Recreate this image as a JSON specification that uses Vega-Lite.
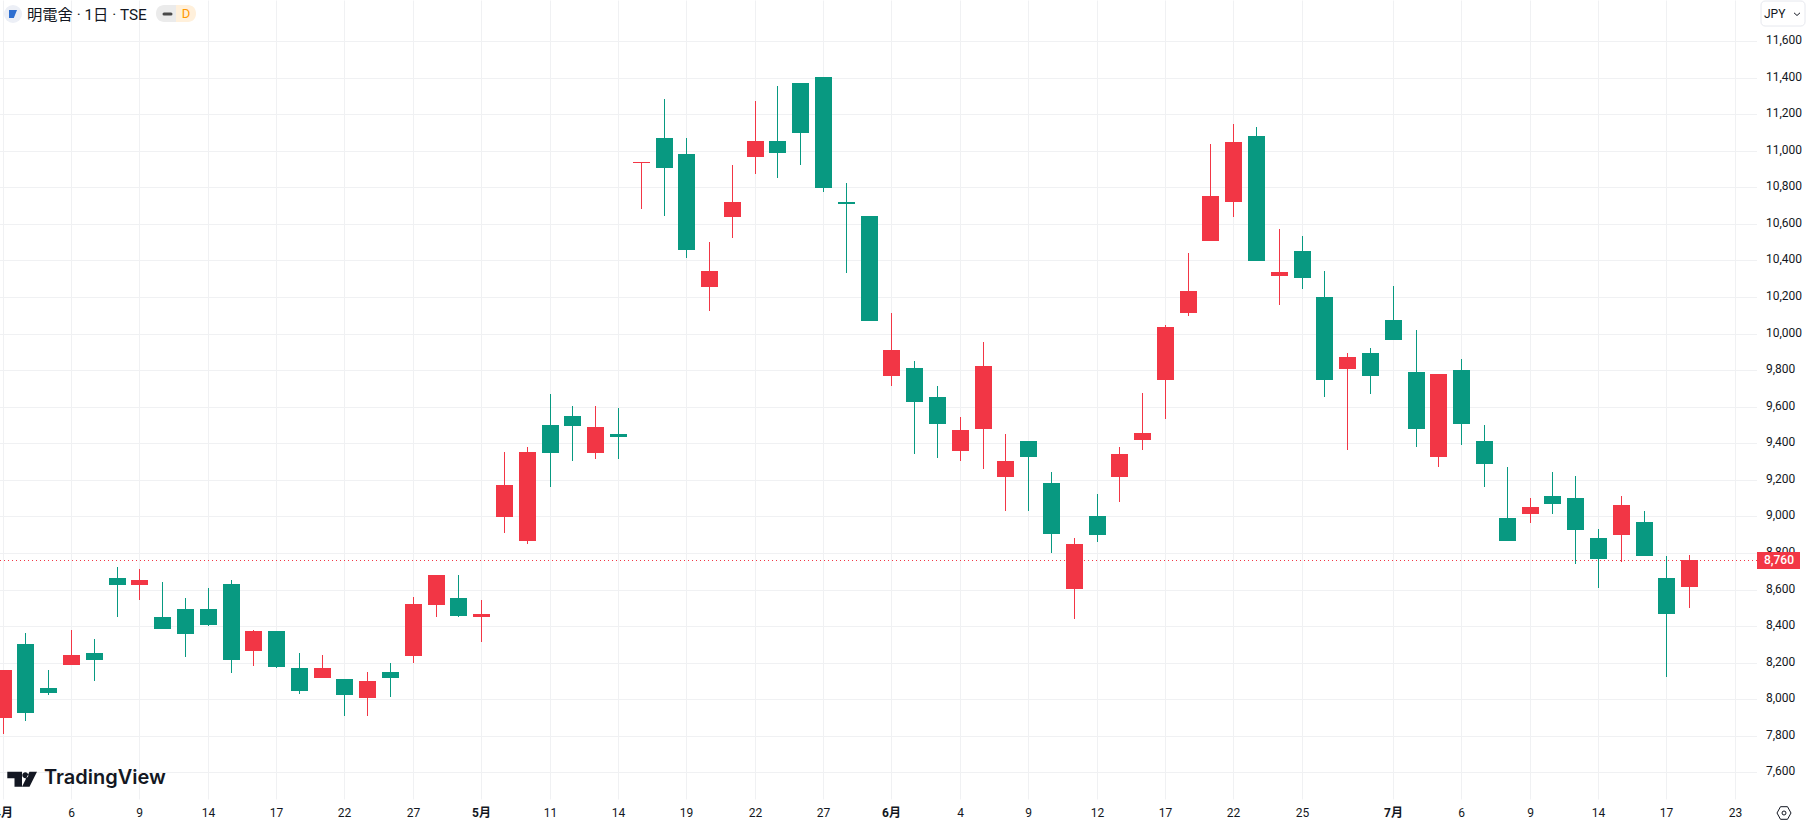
{
  "$schema": "https://vega.github.io/schema/vega-lite/v6.json",
  "width": 1757,
  "height": 799,
  "autosize": {"type": "none"},
  "padding": {"left": 0, "top": 0, "right": 50, "bottom": 28},
  "background": "#ffffff",
  "config": {"view": {"stroke": null}, "font": "Roboto, 'Noto Sans CJK JP', sans-serif"},
  "datasets": {
    "levels": [
      {"price":7600},{"price":7800},{"price":8000},{"price":8200},{"price":8400},{"price":8600},{"price":8800},
      {"price":9000},{"price":9200},{"price":9400},{"price":9600},{"price":9800},{"price":10000},{"price":10200},
      {"price":10400},{"price":10600},{"price":10800},{"price":11000},{"price":11200},{"price":11400},{"price":11600}
    ],
    "candles": [
      {"date":"04-01","bar":0,"open":7900,"high":8160,"low":7810,"close":8160},
      {"date":"04-02","bar":1,"open":8305,"high":8365,"low":7880,"close":7925},
      {"date":"04-03","bar":2,"open":8060,"high":8160,"low":8025,"close":8035},
      {"date":"04-06","bar":3,"open":8190,"high":8380,"low":8190,"close":8245},
      {"date":"04-07","bar":4,"open":8255,"high":8330,"low":8100,"close":8215},
      {"date":"04-08","bar":5,"open":8665,"high":8725,"low":8450,"close":8625},
      {"date":"04-09","bar":6,"open":8625,"high":8715,"low":8545,"close":8655},
      {"date":"04-10","bar":7,"open":8450,"high":8640,"low":8385,"close":8385},
      {"date":"04-13","bar":8,"open":8495,"high":8555,"low":8230,"close":8355},
      {"date":"04-14","bar":9,"open":8495,"high":8610,"low":8400,"close":8405},
      {"date":"04-15","bar":10,"open":8630,"high":8655,"low":8145,"close":8215},
      {"date":"04-16","bar":11,"open":8265,"high":8380,"low":8180,"close":8375},
      {"date":"04-17","bar":12,"open":8375,"high":8375,"low":8170,"close":8175},
      {"date":"04-20","bar":13,"open":8170,"high":8255,"low":8030,"close":8045},
      {"date":"04-21","bar":14,"open":8115,"high":8245,"low":8115,"close":8170},
      {"date":"04-22","bar":15,"open":8110,"high":8110,"low":7910,"close":8025},
      {"date":"04-23","bar":16,"open":8005,"high":8150,"low":7910,"close":8100},
      {"date":"04-24","bar":17,"open":8150,"high":8200,"low":8015,"close":8115},
      {"date":"04-27","bar":18,"open":8235,"high":8560,"low":8200,"close":8520},
      {"date":"04-28","bar":19,"open":8515,"high":8680,"low":8450,"close":8680},
      {"date":"04-30","bar":20,"open":8555,"high":8680,"low":8450,"close":8455},
      {"date":"05-01","bar":21,"open":8450,"high":8545,"low":8315,"close":8465},
      {"date":"05-07","bar":22,"open":8995,"high":9355,"low":8910,"close":9170},
      {"date":"05-08","bar":23,"open":8865,"high":9380,"low":8850,"close":9355},
      {"date":"05-11","bar":24,"open":9500,"high":9670,"low":9160,"close":9345},
      {"date":"05-12","bar":25,"open":9550,"high":9605,"low":9305,"close":9495},
      {"date":"05-13","bar":26,"open":9345,"high":9605,"low":9315,"close":9490},
      {"date":"05-14","bar":27,"open":9450,"high":9595,"low":9315,"close":9435},
      {"date":"05-15","bar":28,"open":10935,"high":10940,"low":10680,"close":10940},
      {"date":"05-18","bar":29,"open":11070,"high":11285,"low":10645,"close":10905},
      {"date":"05-19","bar":30,"open":10980,"high":11070,"low":10415,"close":10455},
      {"date":"05-20","bar":31,"open":10255,"high":10500,"low":10125,"close":10340},
      {"date":"05-21","bar":32,"open":10640,"high":10920,"low":10525,"close":10720},
      {"date":"05-22","bar":33,"open":10965,"high":11270,"low":10875,"close":11055},
      {"date":"05-25","bar":34,"open":11055,"high":11355,"low":10850,"close":10990},
      {"date":"05-26","bar":35,"open":11370,"high":11370,"low":10920,"close":11095},
      {"date":"05-27","bar":36,"open":11405,"high":11405,"low":10775,"close":10795},
      {"date":"05-28","bar":37,"open":10720,"high":10825,"low":10330,"close":10710},
      {"date":"05-29","bar":38,"open":10645,"high":10645,"low":10070,"close":10070},
      {"date":"06-01","bar":39,"open":9770,"high":10110,"low":9715,"close":9910},
      {"date":"06-02","bar":40,"open":9810,"high":9850,"low":9340,"close":9625},
      {"date":"06-03","bar":41,"open":9655,"high":9715,"low":9320,"close":9505},
      {"date":"06-04","bar":42,"open":9360,"high":9545,"low":9305,"close":9475},
      {"date":"06-05","bar":43,"open":9480,"high":9955,"low":9260,"close":9825},
      {"date":"06-08","bar":44,"open":9215,"high":9450,"low":9030,"close":9305},
      {"date":"06-09","bar":45,"open":9415,"high":9415,"low":9030,"close":9325},
      {"date":"06-10","bar":46,"open":9185,"high":9245,"low":8800,"close":8905},
      {"date":"06-11","bar":47,"open":8605,"high":8880,"low":8440,"close":8850},
      {"date":"06-12","bar":48,"open":9005,"high":9125,"low":8860,"close":8900},
      {"date":"06-15","bar":49,"open":9215,"high":9380,"low":9080,"close":9340},
      {"date":"06-16","bar":50,"open":9420,"high":9675,"low":9365,"close":9455},
      {"date":"06-17","bar":51,"open":9745,"high":10045,"low":9535,"close":10035},
      {"date":"06-18","bar":52,"open":10115,"high":10440,"low":10095,"close":10235},
      {"date":"06-19","bar":53,"open":10505,"high":11035,"low":10505,"close":10750},
      {"date":"06-22","bar":54,"open":10720,"high":11145,"low":10640,"close":11045},
      {"date":"06-23","bar":55,"open":11080,"high":11130,"low":10395,"close":10395},
      {"date":"06-24","bar":56,"open":10315,"high":10570,"low":10155,"close":10335},
      {"date":"06-25","bar":57,"open":10450,"high":10535,"low":10245,"close":10305},
      {"date":"06-26","bar":58,"open":10200,"high":10340,"low":9655,"close":9745},
      {"date":"06-29","bar":59,"open":9805,"high":9895,"low":9365,"close":9870},
      {"date":"06-30","bar":60,"open":9895,"high":9920,"low":9670,"close":9770},
      {"date":"07-01","bar":61,"open":10075,"high":10260,"low":9965,"close":9965},
      {"date":"07-02","bar":62,"open":9790,"high":10020,"low":9380,"close":9480},
      {"date":"07-03","bar":63,"open":9325,"high":9780,"low":9270,"close":9780},
      {"date":"07-06","bar":64,"open":9800,"high":9860,"low":9390,"close":9505},
      {"date":"07-07","bar":65,"open":9415,"high":9500,"low":9160,"close":9285},
      {"date":"07-08","bar":66,"open":8990,"high":9270,"low":8865,"close":8865},
      {"date":"07-09","bar":67,"open":9015,"high":9100,"low":8965,"close":9050},
      {"date":"07-10","bar":68,"open":9110,"high":9245,"low":9015,"close":9070},
      {"date":"07-13","bar":69,"open":9100,"high":9220,"low":8740,"close":8925},
      {"date":"07-14","bar":70,"open":8880,"high":8930,"low":8610,"close":8765},
      {"date":"07-15","bar":71,"open":8900,"high":9110,"low":8750,"close":9065},
      {"date":"07-16","bar":72,"open":8970,"high":9030,"low":8785,"close":8785},
      {"date":"07-17","bar":73,"open":8665,"high":8785,"low":8120,"close":8465},
      {"date":"07-21","bar":74,"open":8615,"high":8790,"low":8500,"close":8760}
    ]
  },
  "data": {"name": "candles"},
  "layer": [
    {
      "data": {"name": "levels"},
      "mark": {"type": "rule", "color": "#f0f1f3", "strokeWidth": 1, "yOffset": 0.5},
      "encoding": {"y": {"field": "price", "type": "quantitative", "axis": null}}
    },
    {
      "data": {"name": "levels"},
      "mark": {"type": "text", "color": "#131722", "fontSize": 12, "align": "left", "baseline": "middle", "dy": -1.5},
      "encoding": {
        "x": {"datum": 77.39},
        "y": {"field": "price", "type": "quantitative", "axis": null},
        "text": {"field": "price", "type": "quantitative", "format": ","}
      }
    },
    {
      "mark": {"type": "rule", "strokeWidth": 1, "xOffset": 0.5},
      "encoding": {
        "x": {
          "field": "bar",
          "type": "quantitative",
          "title": null,
          "scale": {"domain": [-0.1141, 76.98], "nice": false, "zero": false, "padding": 0, "round": true},
          "axis": {
            "values": [0,3,6,9,12,15,18,21,24,27,30,33,36,39,42,45,48,51,54,57,61,64,67,70,73,76],
            "labelExpr": "{'0':'4月','3':'6','6':'9','9':'14','12':'17','15':'22','18':'27','21':'5月','24':'11','27':'14','30':'19','33':'22','36':'27','39':'6月','42':'4','45':'9','48':'12','51':'17','54':'22','57':'25','61':'7月','64':'6','67':'9','70':'14','73':'17','76':'23'}[datum.value]",
            "labelFontWeight": {"condition": {"test": "datum.value==0||datum.value==21||datum.value==39||datum.value==61", "value": "bold"}, "value": "normal"},
            "grid": true,
            "gridColor": "#f0f1f3",
            "domain": false,
            "ticks": false,
            "labelPadding": 8,
            "labelFontSize": 12,
            "labelColor": "#131722",
            "labelBound": false,
            "labelFlush": false,
            "labelOverlap": false
          }
        },
        "y": {
          "field": "high",
          "type": "quantitative",
          "title": null,
          "scale": {"domain": [7455, 11824], "nice": false, "zero": false, "padding": 0, "round": true},
          "axis": null
        },
        "y2": {"field": "low"},
        "color": {"condition": {"test": "datum.close>=datum.open", "value": "#f23645"}, "value": "#089981"}
      }
    },
    {
      "mark": {"type": "bar", "size": 17, "xOffset": 0.5},
      "encoding": {
        "x": {"field": "bar", "type": "quantitative"},
        "y": {"field": "open", "type": "quantitative", "axis": null},
        "y2": {"field": "close"},
        "color": {"condition": {"test": "datum.close>=datum.open", "value": "#f23645"}, "value": "#089981"}
      }
    },
    {
      "transform": [{"filter": "datum.bar==74"}],
      "mark": {"type": "rule", "color": "#f23645", "strokeWidth": 1, "strokeDash": [1, 3], "yOffset": 0.5},
      "encoding": {"y": {"field": "close", "type": "quantitative", "axis": null}}
    },
    {
      "transform": [{"filter": "datum.bar==74"}],
      "mark": {"type": "bar", "color": "#f23645"},
      "encoding": {
        "x": {"datum": 77.0},
        "x2": {"datum": 78.87},
        "y": {"datum": 8806, "axis": null},
        "y2": {"datum": 8713}
      }
    },
    {
      "transform": [{"filter": "datum.bar==74"}],
      "mark": {"type": "text", "color": "#ffffff", "fontSize": 12, "fontWeight": 500, "align": "center", "baseline": "middle"},
      "encoding": {
        "x": {"datum": 77.93},
        "y": {"field": "close", "type": "quantitative", "axis": null},
        "text": {"field": "close", "type": "quantitative", "format": ","}
      }
    },
    {
      "data": {"values": [{"label": "明電舍 · 1日 · TSE"}]},
      "mark": {"type": "text", "color": "#131722", "fontSize": 15.3, "align": "left", "baseline": "middle"},
      "encoding": {"x": {"datum": 1.084}, "y": {"datum": 11742, "axis": null}, "text": {"field": "label"}}
    },
    {
      "data": {"values": [{"part": "symbol badge"}]},
      "mark": {"type": "point", "shape": "circle", "filled": true, "color": "#eceff6", "size": 324, "opacity": 1},
      "encoding": {"x": {"datum": 0.448}, "y": {"datum": 11747, "axis": null}}
    },
    {
      "data": {"values": [{"part": "symbol logo"}]},
      "mark": {"type": "point", "shape": "M-1 -1H1L0.2 1H-1Z", "filled": true, "color": "#2f6fd0", "size": 64, "opacity": 1},
      "encoding": {"x": {"datum": 0.448}, "y": {"datum": 11747, "axis": null}}
    },
    {
      "data": {"values": [{"part": "pill left"}]},
      "mark": {"type": "bar", "color": "#ebebeb", "cornerRadiusTopLeft": 8, "cornerRadiusBottomLeft": 8},
      "encoding": {"x": {"datum": 6.74}, "x2": {"datum": 7.62}, "y": {"datum": 11797, "axis": null}, "y2": {"datum": 11704}}
    },
    {
      "data": {"values": [{"part": "pill right"}]},
      "mark": {"type": "bar", "color": "#fff0db", "cornerRadiusTopRight": 8, "cornerRadiusBottomRight": 8},
      "encoding": {"x": {"datum": 7.62}, "x2": {"datum": 8.5}, "y": {"datum": 11797, "axis": null}, "y2": {"datum": 11704}}
    },
    {
      "data": {"values": [{"part": "pill dash"}]},
      "mark": {"type": "rule", "color": "#4a4a4a", "strokeWidth": 3, "strokeCap": "round"},
      "encoding": {"x": {"datum": 7.07}, "x2": {"datum": 7.4}, "y": {"datum": 11750, "axis": null}}
    },
    {
      "data": {"values": [{"label": "D"}]},
      "mark": {"type": "text", "color": "#ff9800", "fontSize": 13, "align": "center", "baseline": "middle"},
      "encoding": {"x": {"datum": 8.04}, "y": {"datum": 11747, "axis": null}, "text": {"field": "label"}}
    },
    {
      "data": {"values": [{"part": "currency box"}]},
      "mark": {"type": "bar", "fill": "#ffffff", "stroke": "#e6e8ee", "cornerRadius": 4},
      "encoding": {"x": {"datum": 77.15}, "x2": {"datum": 79.1}, "y": {"datum": 11818, "axis": null}, "y2": {"datum": 11682}}
    },
    {
      "data": {"values": [{"label": "JPY"}]},
      "mark": {"type": "text", "color": "#131722", "fontSize": 12, "align": "left", "baseline": "middle"},
      "encoding": {"x": {"datum": 77.3}, "y": {"datum": 11747, "axis": null}, "text": {"field": "label"}}
    },
    {
      "data": {"values": [{"part": "currency chevron"}]},
      "mark": {"type": "point", "shape": "M-1 -0.4L0 0.5L1 -0.4", "filled": false, "color": "#131722", "size": 36, "strokeWidth": 1, "opacity": 1},
      "encoding": {"x": {"datum": 78.75}, "y": {"datum": 11747, "axis": null}}
    },
    {
      "data": {"values": [{"part": "settings hexagon"}]},
      "mark": {"type": "point", "shape": "M-1 0L-0.5 -0.9L0.5 -0.9L1 0L0.5 0.9L-0.5 0.9Z", "filled": false, "color": "#131722", "size": 196, "strokeWidth": 1, "opacity": 1},
      "encoding": {"x": {"datum": 78.15}, "y": {"datum": 7379, "axis": null}}
    },
    {
      "data": {"values": [{"part": "settings hub"}]},
      "mark": {"type": "point", "shape": "circle", "filled": false, "color": "#131722", "size": 16, "strokeWidth": 1, "opacity": 1},
      "encoding": {"x": {"datum": 78.15}, "y": {"datum": 7379, "axis": null}}
    },
    {
      "data": {"values": [{"part": "watermark logo"}]},
      "mark": {"type": "point", "shape": "M-0.98 -0.49H0V0.51H-0.5V-0.05H-0.98ZM0.02 -0.25a0.2 0.2 0 1 0 0.4 0a0.2 0.2 0 1 0 -0.4 0ZM0.5 -0.49H1L0.5 0.51H0Z", "filled": true, "color": "#131722", "size": 900, "opacity": 1},
      "encoding": {"x": {"datum": 0.85}, "y": {"datum": 7565, "axis": null}}
    },
    {
      "data": {"values": [{"label": "TradingView"}]},
      "mark": {"type": "text", "color": "#131722", "font": "Inter", "fontSize": 20, "fontWeight": 600, "align": "left", "baseline": "middle"},
      "encoding": {"x": {"datum": 1.83}, "y": {"datum": 7570, "axis": null}, "text": {"field": "label"}}
    }
  ]
}
